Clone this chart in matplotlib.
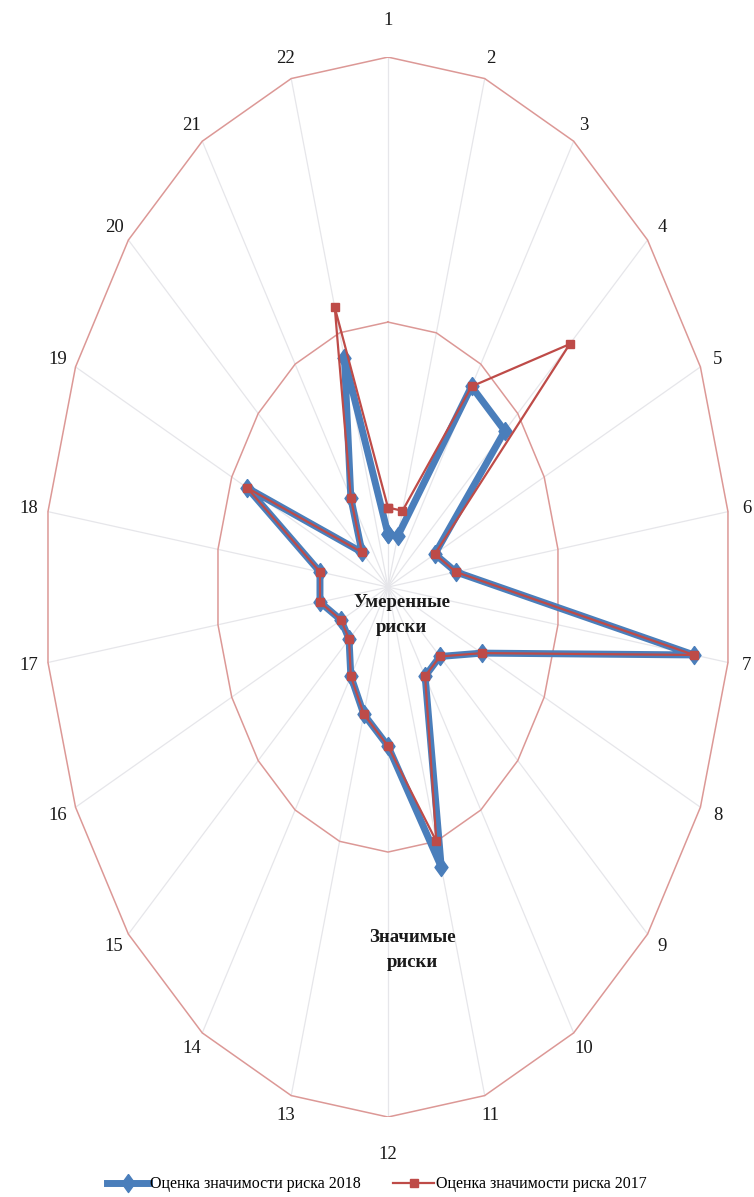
import numpy as np
import matplotlib
matplotlib.use('Agg')
import matplotlib.pyplot as plt

plt.rcParams['font.family'] = ['Liberation Serif', 'DejaVu Serif']

# risk numbers on the spokes
categories = [str(i) for i in range(1, 23)]
risk_2018 = [0.2, 0.2, 0.9, 0.9, 0.3, 0.4, 1.8, 0.6, 0.4, 0.4, 1.1,
             0.6, 0.5, 0.4, 0.3, 0.3, 0.4, 0.4, 0.9, 0.2, 0.4, 0.9]
risk_2017 = [0.3, 0.3, 0.9, 1.4, 0.3, 0.4, 1.8, 0.6, 0.4, 0.4, 1.0,
             0.6, 0.5, 0.4, 0.3, 0.3, 0.4, 0.4, 0.9, 0.2, 0.4, 1.1]
rings = [1, 2]
label_2018 = 'Оценка значимости риска 2018'
label_2017 = 'Оценка значимости риска 2017'

n = len(categories)
theta = np.arange(n) * 2 * np.pi / n


def to_xy(values):
    v = np.asarray(values, dtype=float)
    v = np.append(v, v[0])
    t = np.append(theta, theta[0])
    return v * np.sin(t), v * np.cos(t)


fig = plt.figure(figsize=(7.54, 11.97), dpi=100)
ax = fig.add_axes([0.059, 0.0668, 0.9111, 0.8855])
ax.set_xlim(-2, 2)
ax.set_ylim(-2, 2)
ax.set_aspect('auto')
ax.axis('off')

# spokes
rmax = max(rings)
for t in theta:
    ax.plot([0, rmax * np.sin(t)], [0, rmax * np.cos(t)], color='#e6e6ea', lw=0.9, zorder=1)

# polygon rings
for r in rings:
    x, y = to_xy([r] * n)
    ax.plot(x, y, color='#dc9896', lw=1.1, zorder=2)

# spoke labels
for t, lab in zip(theta, categories):
    d = 13.7 + 13 * abs(np.cos(t)) ** 60
    ax.annotate(lab, xy=(rmax * np.sin(t), rmax * np.cos(t)),
                xytext=(d * np.sin(t), d * np.cos(t)), textcoords='offset points',
                ha='center', va='center', fontsize=13.5, color='#1a1a1a')

diamond = [(0, 1), (0.72, 0), (0, -1), (-0.72, 0), (0, 1)]

x18, y18 = to_xy(risk_2018)
ax.plot(x18, y18, color='#4a7ebb', lw=5, marker=diamond, ms=13,
        mfc='#4a7ebb', mec='#4a7ebb', zorder=3, label=label_2018)

x17, y17 = to_xy(risk_2017)
ax.plot(x17, y17, color='#be4b48', lw=1.6, marker='s', ms=6,
        mfc='#be4b48', mec='#be4b48', zorder=4, label=label_2017)

ax.text(0.08, -0.106, 'Умеренные\nриски', ha='center', va='center',
        fontsize=13.5, fontweight='bold', linespacing=1.6, color='#1a1a1a', zorder=5)
ax.text(0.14, -1.37, 'Значимые\nриски', ha='center', va='center',
        fontsize=13.5, fontweight='bold', linespacing=1.6, color='#1a1a1a', zorder=5)

fig.legend(loc='lower center', bbox_to_anchor=(0.5, -0.008), ncol=2, frameon=False,
           fontsize=11.5, handlelength=2.6, handletextpad=0.1, columnspacing=2.0)

fig.savefig('out.png', dpi=100)
